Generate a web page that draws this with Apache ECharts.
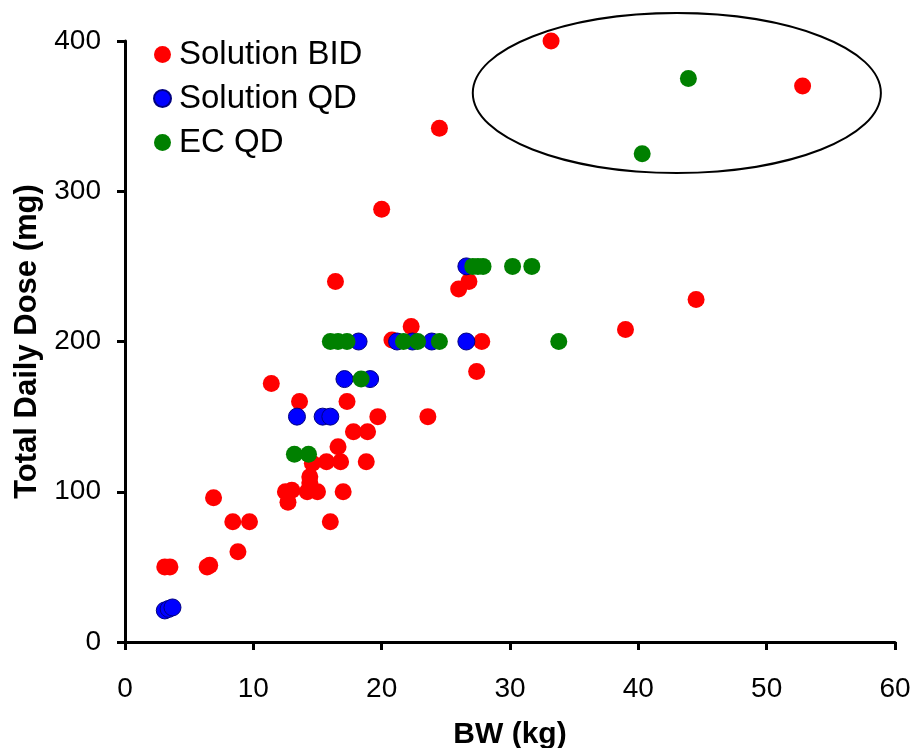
<!DOCTYPE html>
<html>
<head>
<meta charset="utf-8">
<script src="https://cdn.jsdelivr.net/npm/echarts@6/dist/echarts.min.js"></script>
<style>
  html, body { margin: 0; padding: 0; background: #fff; }
  #chart { width: 911px; height: 748px; }
</style>
</head>
<body>
<div id="chart"></div>
<script>
// [BW kg, total daily dose mg]
const solutionBID = [
  [3.1, 50], [3.5, 50], [6.4, 50], [6.6, 51], [6.9, 96], [8.4, 80], [8.8, 60], [9.7, 80],
  [11.4, 172], [12.5, 100], [12.7, 93], [13.0, 101], [13.6, 160], [14.2, 100], [14.4, 106],
  [14.4, 110], [14.6, 119], [15.0, 100], [15.7, 120], [16.0, 80], [16.4, 240], [16.6, 130],
  [16.8, 120], [17.0, 100], [17.3, 160], [17.8, 140], [18.8, 120], [18.9, 140], [19.7, 150],
  [20.0, 288], [20.8, 201], [22.3, 210], [23.6, 150], [24.5, 342], [26.0, 235], [26.8, 240],
  [27.4, 180], [27.8, 200], [33.2, 400], [39.0, 208], [44.5, 228], [52.8, 370]
]
const solutionQD = [
  [3.1, 21], [3.4, 22], [3.7, 23], [13.4, 150], [15.4, 150], [16.0, 150], [17.1, 175],
  [18.2, 200], [19.1, 175], [21.2, 200], [22.4, 200], [23.9, 200], [26.6, 200], [26.6, 250]
]
const ecQD = [
  [13.2, 125], [14.3, 125], [16.0, 200], [16.6, 200], [17.3, 200], [18.4, 175], [21.7, 200],
  [22.8, 200], [24.5, 200], [27.1, 250], [27.5, 250], [27.9, 250], [30.2, 250], [31.7, 250],
  [33.8, 200], [40.3, 325], [43.9, 375]
]
const seriesNames = ['Solution BID', 'Solution QD', 'EC QD']
const seriesColors = ['#ff0000', '#0000ff', '#008000']
const xTicks = [0, 10, 20, 30, 40, 50, 60]
const yTicks = [0, 100, 200, 300, 400]
// outlier ellipse in data units: centre x, centre y, half width, half height
const outlierBox = [43.0, 365.4, 15.9, 53.2]

const font = 'Liberation Sans, Arial, sans-serif'
const chart = echarts.init(document.getElementById('chart'))

const axisCommon = {
  axisLine: { lineStyle: { color: '#000', width: 3 } },
  axisTick: { inside: false, length: 8, lineStyle: { color: '#000', width: 3 } },
  splitLine: { show: false },
  nameLocation: 'middle'
}

const option = {
  animation: false,
  backgroundColor: '#fff',
  // fixed plot box, don't let labels push it around
  grid: { left: 125, right: 16, top: 41, bottom: 106, containLabel: false, outerBoundsMode: 'none' },
  legend: {
    orient: 'vertical',
    left: 148,
    top: 33,
    itemWidth: 17,
    itemHeight: 17,
    itemGap: 11,
    icon: 'circle',
    data: seriesNames,
    textStyle: { color: '#000', fontFamily: font, fontSize: 33, padding: [0, 0, 0, 3] }
  },
  xAxis: {
    ...axisCommon,
    type: 'value',
    name: 'BW (kg)',
    nameGap: 78,
    nameTextStyle: { color: '#000', fontFamily: font, fontWeight: 'bold', fontSize: 30 },
    min: xTicks[0],
    max: xTicks[xTicks.length - 1],
    interval: 10,
    axisLabel: { color: '#000', fontFamily: font, fontSize: 28, margin: 33 }
  },
  yAxis: {
    ...axisCommon,
    type: 'value',
    name: 'Total Daily Dose (mg)',
    nameGap: 82,
    nameTextStyle: { color: '#000', fontFamily: font, fontWeight: 'bold', fontSize: 31 },
    min: yTicks[0],
    max: yTicks[yTicks.length - 1],
    interval: 100,
    axisLabel: { color: '#000', fontFamily: font, fontSize: 28, margin: 24 }
  },
  series: [solutionBID, solutionQD, ecQD].map((d, i) => ({
    name: seriesNames[i],
    type: 'scatter',
    data: d,
    symbol: 'circle',
    symbolSize: 17,
    itemStyle: {
      color: seriesColors[i],
      opacity: 1,
      borderColor: i === 1 ? '#000080' : seriesColors[i],
      borderWidth: i === 1 ? 1 : 0
    }
  }))
}
chart.setOption(option)

// ellipse around the high-dose outliers
const c = chart.convertToPixel({ gridIndex: 0 }, [outlierBox[0], outlierBox[1]])
const e = chart.convertToPixel({ gridIndex: 0 }, [outlierBox[0] + outlierBox[2], outlierBox[1] + outlierBox[3]])
chart.setOption({
  graphic: [{
    type: 'ellipse',
    z: 0,
    shape: { cx: c[0], cy: c[1], rx: e[0] - c[0], ry: c[1] - e[1] },
    style: { fill: 'none', stroke: '#000', lineWidth: 2 }
  }]
})
</script>
</body>
</html>
